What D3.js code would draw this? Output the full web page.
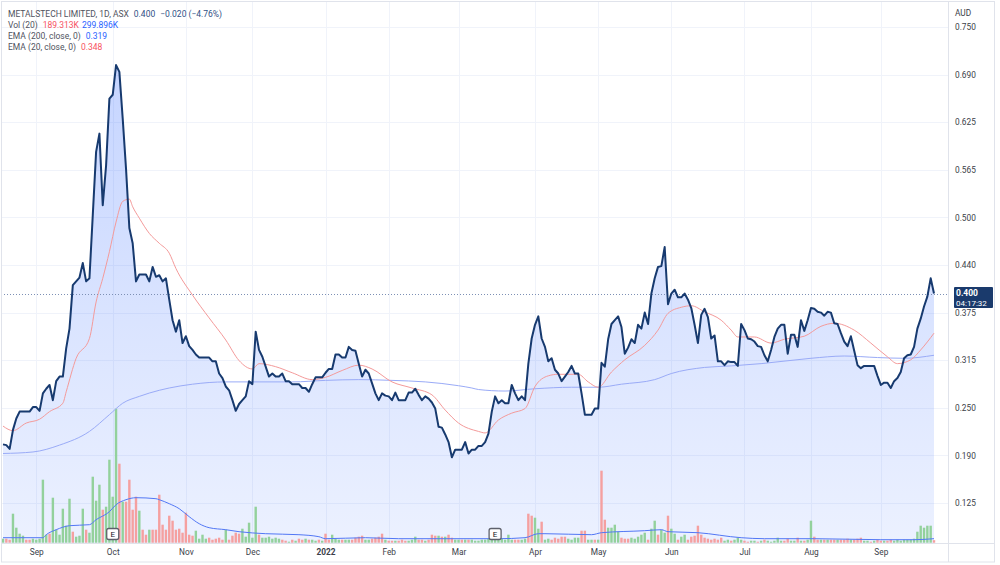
<!DOCTYPE html>
<html><head><meta charset="utf-8">
<script src="https://cdnjs.cloudflare.com/ajax/libs/d3/7.8.5/d3.min.js"></script>
<style>
html,body{margin:0;padding:0;background:#fff;}
svg{display:block;font-family:Roboto,"Noto Sans",sans-serif;}
</style></head><body>
<svg id="chart" width="1000" height="565"></svg>
<script>
// ---- DATA ----
const closes = [
.202,.201,.196,.221,.236,.245,.245,.245,.245,.251,
.251,.246,.269,.275,.280,.260,.285,.291,.291,.328,
.354,.411,.416,.421,.440,.416,.420,.503,.586,.610,
.516,.568,.656,.661,.700,.691,.630,.564,.486,.466,
.416,.425,.425,.425,.416,.435,.422,.424,.416,.420,
.392,.365,.350,.365,.335,.344,.331,.326,.320,.316,
.316,.316,.316,.311,.311,.295,.289,.278,.273,.260,
.246,.255,.260,.265,.285,.281,.350,.326,.317,.304,
.291,.295,.291,.291,.295,.285,.285,.281,.281,.281,
.276,.276,.271,.281,.290,.290,.290,.296,.301,.301,
.320,.320,.316,.316,.330,.326,.325,.308,.291,.300,
.295,.282,.269,.260,.269,.266,.265,.260,.270,.260,
.260,.260,.270,.270,.275,.267,.260,.265,.262,.257,
.249,.225,.224,.215,.205,.185,.195,.195,.195,.205,
.190,.195,.195,.200,.200,.205,.216,.245,.265,.256,
.260,.256,.256,.280,.269,.260,.265,.260,.308,.341,
.359,.370,.341,.330,.311,.315,.300,.295,.285,.291,
.297,.305,.295,.295,.269,.241,.241,.241,.249,.249,
.309,.304,.340,.360,.365,.370,.356,.321,.329,.340,
.335,.359,.354,.375,.360,.400,.420,.435,.436,.461,
.386,.400,.405,.395,.395,.400,.392,.381,.359,.335,
.372,.380,.369,.341,.345,.311,.311,.306,.311,.310,
.310,.305,.360,.352,.341,.340,.337,.331,.330,.319,
.311,.326,.343,.354,.359,.359,.321,.346,.346,.330,
.365,.351,.365,.381,.380,.376,.375,.371,.376,.375,
.361,.360,.348,.337,.331,.344,.325,.306,.302,.305,
.305,.305,.305,.292,.280,.283,.283,.276,.285,.289,
.297,.315,.319,.320,.330,.354,.367,.383,.396,.420,
.400];

// volume in thousands of shares
const volumes = [
300,300,225,2175,1125,675,525,225,225,300,
225,300,4725,600,675,3375,975,600,2550,1275,
3300,825,450,525,2550,975,750,4950,3150,4350,
2475,2700,6225,3450,10050,5925,3075,3075,4725,2475,
3450,2400,975,600,975,975,975,3600,1350,975,
2025,1650,975,1050,750,2250,600,525,900,300,
600,300,375,225,300,375,225,975,225,525,
750,675,1050,450,1500,375,2700,600,375,375,
450,300,375,300,225,150,75,225,150,300,
225,300,225,225,150,225,150,675,225,600,
300,225,225,225,225,225,375,450,525,225,
225,300,375,450,675,225,150,150,150,150,
225,150,150,225,450,225,225,150,225,600,
525,525,450,450,600,375,225,225,225,225,
225,225,150,150,225,225,300,375,225,225,
300,225,600,225,225,225,225,300,2175,2025,
1875,1050,1575,225,300,225,375,300,450,450,
300,225,375,375,900,900,225,225,225,225,
5400,1725,1125,1125,1350,825,375,300,300,375,
300,450,600,750,225,1050,1650,600,975,750,
2025,1050,675,225,450,600,225,450,525,1275,
600,375,300,225,300,225,375,150,225,150,
225,375,225,150,75,150,150,75,150,225,
150,75,150,375,150,150,300,150,150,375,
150,150,225,1650,450,225,225,225,225,225,
225,225,225,225,300,225,225,300,375,150,
150,75,150,225,150,150,150,225,150,225,
150,225,225,225,300,825,1275,1125,1275,1275,
189.313];

// g = up bar, r = down bar
const volDirection = [
"grrggggrrg","ggggrggggg","grgggrgggg","rggggrgrrr","rgrrgrrrrr",
"rrrrrrrrgg","ggrrrrrgrr","rrgggggrgg","ggggrrgrgr","rgrggrgrrg",
"ggrggrrrrg","grrrrgrrgr","rrgggrrgrr","rgrgrrggrg","rggggggggg",
"ggggrrggrr","ggrggrrrrr","ggggrrggrg","rrggggrrrg","ggggrggrgg",
"rggrggrrrr","rrrrrrrggr","gggrrggrgr","gggggrrggr","grggrrgrgr",
"rgrrrgrrrg","grgrrgrrgg","gggggggggg","r"].join("");

const ema20Idx = [0,3,7,11,14,18,19,22,26,28,30,32,34,36,38,39,41,44,47,50,52,57,62,67,71,75,77,82,87,93,97,102,107,111,117,123,129,133,137,143,145,149,153,157,160,164,167,173,176,179,183,187,193,197,200,204,207,211,216,219,221,226,231,235,241,246,250,256,261,266,269,273,276,280];
const ema20Val = [.226,.220,.230,.235,.245,.256,.271,.315,.341,.389,.420,.455,.494,.521,.524,.514,.499,.479,.466,.453,.433,.398,.368,.339,.312,.301,.308,.304,.296,.287,.290,.299,.306,.301,.284,.276,.267,.247,.230,.219,.217,.234,.243,.249,.278,.292,.294,.294,.284,.277,.297,.313,.332,.352,.374,.382,.384,.376,.365,.352,.343,.343,.335,.340,.344,.357,.361,.352,.335,.317,.308,.313,.326,.348];

const ema200Idx = [0,9,17,26,32,36,41,47,50,57,67,77,87,97,107,117,127,137,141,143,151,160,171,179,186,196,201,211,219,228,243,253,263,271,280];
const ema200Val = [.190,.192,.201,.219,.241,.256,.265,.273,.276,.281,.284,.284,.284,.286,.287,.286,.284,.279,.276,.274,.272,.275,.277,.277,.281,.287,.295,.303,.305,.308,.315,.318,.316,.315,.319];

const volMaIdx = [0,12,13,16,20,26,28,32,34,37,40,46,47,50,53,56,59,62,67,71,79,89,95,97,109,119,149,157,161,163,177,180,193,198,200,209,222,229,244,264,274,280];
const volMaVal = [375,375,600,975,1275,1350,1725,2325,2850,3225,3375,3300,3225,2925,2550,1950,1425,1125,975,825,675,600,450,300,375,300,300,375,675,675,600,750,900,975,825,750,375,300,300,225,225,300];

const monthIdx = [10,33,55,75,97,116,137,160,179,201,223,243,264];
const monthLabels = ["Sep","Oct","Nov","Dec","2022","Feb","Mar","Apr","May","Jun","Jul","Aug","Sep"];
const priceTicks = [0.125,0.1875,0.25,0.3125,0.375,0.4375,0.5,0.5625,0.625,0.6875,0.75];
const priceTickLabels = ["0.125","0.190","0.250","0.315","0.375","0.440","0.500","0.565","0.625","0.690","0.750"];
const earningsIdx = [33,148];

const legendTitle = "METALSTECH LIMITED, 1D, ASX";
const lastPriceText = "0.400";
const changeText = "\u22120.020 (\u22124.76%)";
const volText = ["Vol (20)", "189.313K", "299.896K"];
const ema200Text = ["EMA (200, close, 0)", "0.319"];
const ema20Text = ["EMA (20, close, 0)", "0.348"];
const countdownText = "04:17:32";
const lastPrice = 0.400;

// ---- LAYOUT ----
const W = 1000, H = 565;
const plotL = 1, plotR = 948, plotT = 1, plotB = 543;
const svg = d3.select("#chart");

const x = d3.scaleLinear().domain([0, closes.length - 1]).range([3, 934]);
const y = d3.scaleLinear().domain([0.125, 0.75]).range([503, 27]);
const yV = d3.scaleLinear().domain([0, 30000]).range([542.7, 142.7]);

const defs = svg.append("defs");
defs.append("clipPath").attr("id","plotclip").append("rect")
  .attr("x",plotL).attr("y",plotT).attr("width",plotR-plotL).attr("height",plotB-plotT);
const grad = defs.append("linearGradient").attr("id","areaGrad")
  .attr("gradientUnits","userSpaceOnUse").attr("x1",0).attr("x2",0).attr("y1",60).attr("y2",plotB);
grad.append("stop").attr("offset","0").attr("stop-color","rgb(41,98,255)").attr("stop-opacity",0.27);
grad.append("stop").attr("offset","1").attr("stop-color","rgb(41,98,255)").attr("stop-opacity",0.09);

svg.append("rect").attr("width",W).attr("height",H).attr("fill","#fff");

// grid
const grid = svg.append("g");
grid.selectAll("line.h").data(priceTicks).join("line")
  .attr("x1",plotL).attr("x2",plotR)
  .attr("y1",d=>Math.round(y(d))+0.5).attr("y2",d=>Math.round(y(d))+0.5)
  .attr("stroke","#f0f3fa").attr("stroke-width",1);
grid.selectAll("line.v").data(monthIdx).join("line")
  .attr("y1",plotT).attr("y2",plotB)
  .attr("x1",d=>Math.round(x(d))+0.5).attr("x2",d=>Math.round(x(d))+0.5)
  .attr("stroke","#f0f3fa").attr("stroke-width",1);

const plot = svg.append("g").attr("clip-path","url(#plotclip)");

// area + price line
const pts = closes.map((c,i)=>[i,c]);
plot.append("path").datum(pts)
  .attr("d", d3.area().x(d=>x(d[0])).y0(plotB).y1(d=>y(d[1])))
  .attr("fill","url(#areaGrad)");

// volume bars
const bw = 2.4;
plot.append("g").selectAll("rect").data(volumes).join("rect")
  .attr("x",(d,i)=>x(i)-bw/2).attr("width",bw)
  .attr("y",d=>yV(d)).attr("height",d=>yV(0)-yV(d))
  .attr("fill",(d,i)=>volDirection[i]==="g" ? "#93d19c" : "#f5a0a0");

// volume MA
plot.append("path").datum(volMaIdx.map((d,i)=>[d,volMaVal[i]]))
  .attr("d", d3.line().x(d=>x(d[0])).y(d=>yV(d[1])).curve(d3.curveMonotoneX))
  .attr("fill","none").attr("stroke","#5277f5").attr("stroke-width",1);

// EMA lines
plot.append("path").datum(ema200Idx.map((d,i)=>[d,ema200Val[i]]))
  .attr("d", d3.line().x(d=>x(d[0])).y(d=>y(d[1])).curve(d3.curveMonotoneX))
  .attr("fill","none").attr("stroke","#9aabf7").attr("stroke-width",1);
plot.append("path").datum(ema20Idx.map((d,i)=>[d,ema20Val[i]]))
  .attr("d", d3.line().x(d=>x(d[0])).y(d=>y(d[1])).curve(d3.curveMonotoneX))
  .attr("fill","none").attr("stroke","#f49a9a").attr("stroke-width",1);

// last price dotted line
plot.append("line").attr("x1",plotL).attr("x2",plotR)
  .attr("y1",Math.round(y(lastPrice))+0.5).attr("y2",Math.round(y(lastPrice))+0.5)
  .attr("stroke","#7d90b5").attr("stroke-width",1).attr("stroke-dasharray","1,2");

plot.append("path").datum(pts)
  .attr("d", d3.line().x(d=>x(d[0])).y(d=>y(d[1])))
  .attr("fill","none").attr("stroke","#173a6f").attr("stroke-width",2)
  .attr("stroke-linejoin","round");

// earnings markers
const em = plot.append("g").selectAll("g").data(earningsIdx).join("g")
  .attr("transform",d=>`translate(${x(d)},534)`);
em.append("rect").attr("x",-6).attr("y",-5.5).attr("width",12).attr("height",11).attr("rx",2)
  .attr("fill","#fff").attr("stroke","#5d606b").attr("stroke-width",1.3);
em.append("text").text("E").attr("text-anchor","middle").attr("y",3)
  .attr("font-size",8).attr("fill","#131722");

// frame lines
const frame = svg.append("g").attr("stroke","#e0e3eb").attr("fill","none");
frame.append("rect").attr("x",1.5).attr("y",1.5).attr("width",993).attr("height",560.5);
frame.append("line").attr("x1",plotR+0.5).attr("x2",plotR+0.5).attr("y1",1).attr("y2",562);
frame.append("line").attr("x1",1).attr("x2",995).attr("y1",plotB+0.5).attr("y2",plotB+0.5);

// right axis
const ra = svg.append("g").attr("transform",`translate(${plotR},0)`)
  .call(d3.axisRight(y).tickValues(priceTicks).tickFormat((d,i)=>priceTickLabels[i]).tickSize(0).tickPadding(7));
ra.select(".domain").remove();
ra.selectAll("text").attr("font-size",8.3).attr("fill","#3b3e48").attr("font-family","Roboto,sans-serif");
svg.append("text").text("AUD").attr("x",955).attr("y",15.5).attr("font-size",8.3).attr("fill","#3b3e48");

// last price label
svg.append("rect").attr("x",954).attr("y",y(lastPrice)-6.5).attr("width",39).attr("height",21)
  .attr("fill","#1a3a6c").attr("rx",1);
svg.append("text").text(lastPriceText).attr("x",956).attr("y",y(lastPrice)+2.5)
  .attr("font-size",8.5).attr("font-weight","bold").attr("fill","#fff");
svg.append("text").text(countdownText).attr("x",956).attr("y",y(lastPrice)+12)
  .attr("font-size",8).attr("fill","#fff");

// bottom axis
const ba = svg.append("g").attr("transform",`translate(0,${plotB})`)
  .call(d3.axisBottom(x).tickValues(monthIdx).tickFormat((d,i)=>monthLabels[i]).tickSize(0).tickPadding(6));
ba.select(".domain").remove();
ba.selectAll("text").attr("font-size",8.3).attr("fill","#3b3e48").attr("font-family","Roboto,sans-serif")
  .attr("font-weight",(d,i)=>monthLabels[i]==="2022" ? "bold" : "normal");

// legend
const lg = svg.append("g").attr("font-size",8.5);
const r1 = lg.append("text").attr("x",8).attr("y",16.5).attr("fill","#50535e");
r1.append("tspan").text(legendTitle);
r1.append("tspan").attr("dx",5).attr("fill","#2f4f85").text(lastPriceText);
r1.append("tspan").attr("dx",5).attr("fill","#2f4f85").text(changeText);
const r2 = lg.append("text").attr("x",8).attr("y",27.5).attr("fill","#50535e");
r2.append("tspan").text(volText[0]);
r2.append("tspan").attr("dx",5).attr("fill","#f7525f").text(volText[1]);
r2.append("tspan").attr("dx",3).attr("fill","#2962ff").text(volText[2]);
const r3 = lg.append("text").attr("x",8).attr("y",38.5).attr("fill","#50535e");
r3.append("tspan").text(ema200Text[0]);
r3.append("tspan").attr("dx",5).attr("fill","#2962ff").text(ema200Text[1]);
const r4 = lg.append("text").attr("x",8).attr("y",49.5).attr("fill","#50535e");
r4.append("tspan").text(ema20Text[0]);
r4.append("tspan").attr("dx",5).attr("fill","#f7525f").text(ema20Text[1]);
</script>
</body></html>
